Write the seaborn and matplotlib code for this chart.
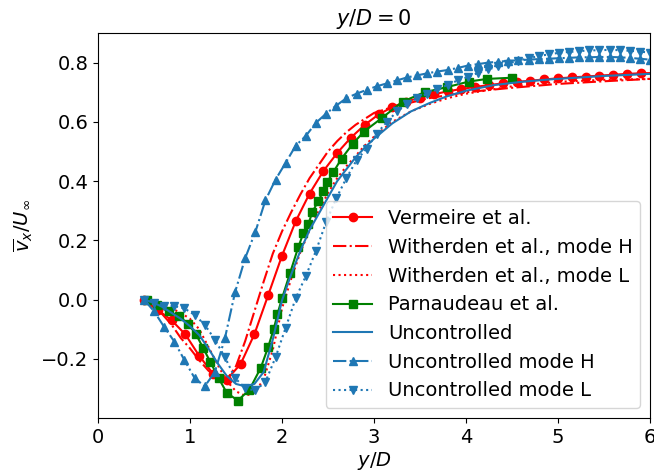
import matplotlib
matplotlib.use("Agg")
import matplotlib.pyplot as plt
import seaborn as sns
import pandas as pd

plt.rcParams['font.size'] = 14

# Vermeire et al.
verm_x = [0.50, 0.65, 0.80, 0.95, 1.10, 1.25, 1.40, 1.55, 1.70, 1.85, 2.00, 2.15, 2.30, 2.45,
          2.60, 2.75, 2.90, 3.05, 3.20, 3.35, 3.50, 3.65, 3.80, 3.95, 4.10, 4.25, 4.40, 4.55,
          4.70, 4.85, 5.00, 5.15, 5.30, 5.45, 5.60, 5.75, 5.90, 6.05]
verm_y = [0.0, -0.035, -0.07, -0.118, -0.19, -0.25, -0.27, -0.218, -0.117, 0.015, 0.148, 0.265,
          0.358, 0.434, 0.495, 0.547, 0.59, 0.625, 0.65, 0.668, 0.682, 0.693, 0.703, 0.711, 0.718,
          0.724, 0.73, 0.735, 0.739, 0.743, 0.747, 0.75, 0.753, 0.756, 0.759, 0.762, 0.764, 0.765]

# Witherden et al., mode H
withH_x = [0.5, 0.6, 0.7, 0.8, 0.9, 1.0, 1.1, 1.2, 1.3, 1.4, 1.5, 1.6, 1.7, 1.8, 1.9, 2.0, 2.1,
           2.2, 2.3, 2.4, 2.5, 2.6, 2.7, 2.8, 2.9, 3.0, 3.2, 3.4, 3.6, 3.8, 4.0, 4.5, 5.0, 5.5, 6.0]
withH_y = [0.0, -0.025, -0.05, -0.085, -0.13, -0.165, -0.205, -0.24, -0.265, -0.27, -0.225, -0.14,
           -0.04, 0.06, 0.155, 0.23, 0.295, 0.355, 0.41, 0.455, 0.50, 0.535, 0.565, 0.59, 0.61,
           0.63, 0.65, 0.665, 0.68, 0.69, 0.70, 0.715, 0.728, 0.737, 0.745]

# Witherden et al., mode L
withL_x = [0.5, 0.6, 0.7, 0.8, 0.9, 1.0, 1.1, 1.2, 1.3, 1.4, 1.5, 1.6, 1.7, 1.8, 1.9, 2.0, 2.1,
           2.2, 2.3, 2.4, 2.5, 2.6, 2.7, 2.8, 2.9, 3.0, 3.2, 3.4, 3.6, 3.8, 4.0, 4.5, 5.0, 5.5, 6.0]
withL_y = [0.0, -0.01, -0.02, -0.03, -0.045, -0.065, -0.1, -0.16, -0.22, -0.275, -0.31, -0.325,
           -0.315, -0.27, -0.17, -0.03, 0.07, 0.16, 0.235, 0.30, 0.36, 0.41, 0.45, 0.485, 0.52,
           0.55, 0.60, 0.635, 0.66, 0.68, 0.695, 0.72, 0.735, 0.742, 0.745]

# Parnaudeau et al.
parn_x = [0.53, 0.64, 0.77, 0.88, 0.98, 1.065, 1.14, 1.22, 1.31, 1.40, 1.52, 1.645, 1.77, 1.85,
          1.91, 1.95, 2.00, 2.087, 2.177, 2.232, 2.286, 2.33, 2.395, 2.45, 2.49, 2.557, 2.648,
          2.767, 2.89, 3.09, 3.31, 3.55, 3.79, 4.03, 4.23, 4.50]
parn_y = [0.0, -0.02, -0.04, -0.056, -0.082, -0.117, -0.162, -0.21, -0.265, -0.315, -0.341,
          -0.305, -0.23, -0.16, -0.10, -0.05, 0.004, 0.089, 0.177, 0.224, 0.255, 0.295, 0.334,
          0.365, 0.396, 0.43, 0.476, 0.525, 0.567, 0.614, 0.668, 0.70, 0.717, 0.736, 0.745, 0.749]

# Uncontrolled
unc_x = [0.5, 0.6, 0.7, 0.8, 0.9, 1.0, 1.1, 1.2, 1.3, 1.4, 1.5, 1.6, 1.7, 1.8, 1.9, 2.0, 2.1,
         2.2, 2.3, 2.4, 2.5, 2.6, 2.7, 2.8, 2.9, 3.0, 3.2, 3.4, 3.6, 3.8, 4.0, 4.3, 4.6, 4.9,
         5.2, 5.5, 5.8, 6.0]
unc_y = [0.0, -0.01, -0.025, -0.045, -0.065, -0.09, -0.12, -0.165, -0.215, -0.258, -0.285,
         -0.293, -0.285, -0.245, -0.135, -0.003, 0.085, 0.165, 0.235, 0.29, 0.345, 0.40, 0.44,
         0.48, 0.513, 0.543, 0.595, 0.635, 0.663, 0.687, 0.705, 0.724, 0.735, 0.743, 0.749,
         0.755, 0.759, 0.762]

# Uncontrolled mode H / mode L (same sampling)
mode_x = [0.50, 0.61, 0.72, 0.83, 0.94, 1.05, 1.16, 1.27, 1.38, 1.49, 1.60, 1.71, 1.82, 1.93,
          2.04, 2.15, 2.26, 2.37, 2.48, 2.59, 2.70, 2.81, 2.92, 3.03, 3.14, 3.25, 3.36, 3.47,
          3.58, 3.69, 3.80, 3.91, 4.02, 4.13, 4.24, 4.35, 4.46, 4.57, 4.68, 4.79, 4.90, 5.01,
          5.12, 5.23, 5.34, 5.45, 5.56, 5.67, 5.78, 5.89, 6.00]
modeH_y = [0.0, -0.04, -0.093, -0.142, -0.205, -0.265, -0.293, -0.245, -0.13, 0.025, 0.14,
           0.228, 0.335, 0.405, 0.462, 0.52, 0.553, 0.597, 0.628, 0.655, 0.68, 0.695, 0.708,
           0.72, 0.73, 0.74, 0.75, 0.757, 0.764, 0.77, 0.775, 0.782, 0.79, 0.795, 0.80, 0.803,
           0.806, 0.808, 0.81, 0.812, 0.813, 0.815, 0.816, 0.818, 0.818, 0.819, 0.819, 0.818,
           0.816, 0.813, 0.81]
modeL_y = [0.0, -0.01, -0.022, -0.022, -0.03, -0.052, -0.085, -0.135, -0.195, -0.265, -0.30,
           -0.307, -0.278, -0.195, -0.095, 0.005, 0.08, 0.165, 0.262, 0.342, 0.41, 0.47, 0.51,
           0.56, 0.60, 0.635, 0.66, 0.68, 0.695, 0.71, 0.725, 0.74, 0.752, 0.765, 0.777, 0.787,
           0.797, 0.806, 0.815, 0.822, 0.828, 0.833, 0.836, 0.839, 0.841, 0.842, 0.843, 0.842,
           0.84, 0.837, 0.834]

BLUE = '#1f77b4'

fig = plt.figure(figsize=(6.54, 4.75), dpi=100)
ax = fig.add_axes([98 / 654, 1 - 418 / 475, 552 / 654, 385 / 475])

series = [
    (verm_x, verm_y, 'Vermeire et al.', 'red', '-', 'o'),
    (withH_x, withH_y, 'Witherden et al., mode H', 'red', '-.', None),
    (withL_x, withL_y, 'Witherden et al., mode L', 'red', ':', None),
    (parn_x, parn_y, 'Parnaudeau et al.', 'green', '-', 's'),
    (unc_x, unc_y, 'Uncontrolled', BLUE, '-', None),
    (mode_x, modeH_y, 'Uncontrolled mode H', BLUE, '-.', '^'),
    (mode_x, modeL_y, 'Uncontrolled mode L', BLUE, ':', 'v'),
]

for xs, ys, lab, col, ls, mk in series:
    df = pd.DataFrame({'x': xs, 'y': ys})
    kw = dict(color=col, linestyle=ls, linewidth=1.5, label=lab, sort=False,
              estimator=None, ax=ax)
    if mk is not None:
        kw.update(marker=mk, markersize=6, markeredgecolor=col, markeredgewidth=1.0)
    sns.lineplot(data=df, x='x', y='y', **kw)

ax.set_xlim(0, 6)
ax.set_ylim(-0.40, 0.90)
ax.set_xticks([0, 1, 2, 3, 4, 5, 6])
ax.set_xticklabels(['0', '1', '2', '3', '4', '5', '6'])
ax.set_yticks([-0.2, 0.0, 0.2, 0.4, 0.6, 0.8])
ax.set_yticklabels(['\u22120.2', '0.0', '0.2', '0.4', '0.6', '0.8'])
ax.set_xlabel('$y/D$', labelpad=2)
ax.set_ylabel(r'$\overline{v}_x/U_\infty$')
ax.set_title('$y/D = 0$', fontsize=15)
ax.legend(loc='lower right', fontsize=14)

fig.savefig('out.png', dpi=100)
